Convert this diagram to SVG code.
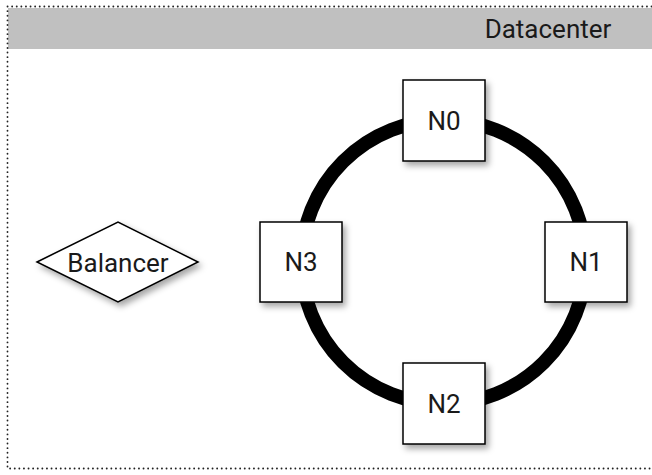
<svg xmlns="http://www.w3.org/2000/svg" width="652" height="475" viewBox="0 0 652 475">
  <defs>
    <filter id="shadow" x="-20%" y="-20%" width="150%" height="150%">
      <feDropShadow dx="3" dy="4" stdDeviation="3" flood-color="#000" flood-opacity="0.35"/>
    </filter>
    <style>
      .label { font-family: Roboto, "Liberation Sans", sans-serif; font-size: 26px; fill: #1a1a1a; text-anchor: middle; dominant-baseline: central; }
      .node { fill: #fff; stroke: #000; stroke-width: 1.5; filter: url(#shadow); }
    </style>
  </defs>
  <rect width="652" height="475" fill="#fff"/>

  <!-- datacenter frame -->
  <g id="datacenter">
    <rect x="8" y="8" width="644" height="41" fill="#c0c0c0"/>
    <path d="M7.5,6.5 H652 M7.5,6.5 V468.5 H652" fill="none" stroke="#222" stroke-width="1.8" stroke-dasharray="0.1,4.5" stroke-linecap="round"/>
    <text x="548" y="29" class="label">Datacenter</text>
  </g>

  <!-- ring connector -->
  <g id="connectors">
    <circle cx="443.5" cy="262" r="142" fill="none" stroke="#000" stroke-width="14"/>
  </g>

  <g id="balancer">
    <polygon class="node" points="37,262 118,222 198,262 118,302"/>
    <text x="118" y="263" class="label">Balancer</text>
  </g>

  <g id="n0">
    <rect class="node" x="403" y="80" width="82" height="81"/>
    <text x="444" y="121" class="label">N0</text>
  </g>
  <g id="n1">
    <rect class="node" x="545" y="222" width="82" height="80"/>
    <text x="586" y="262" class="label">N1</text>
  </g>
  <g id="n2">
    <rect class="node" x="403" y="363" width="82" height="81"/>
    <text x="444" y="404" class="label">N2</text>
  </g>
  <g id="n3">
    <rect class="node" x="260" y="222" width="82" height="80"/>
    <text x="301" y="262" class="label">N3</text>
  </g>
</svg>
